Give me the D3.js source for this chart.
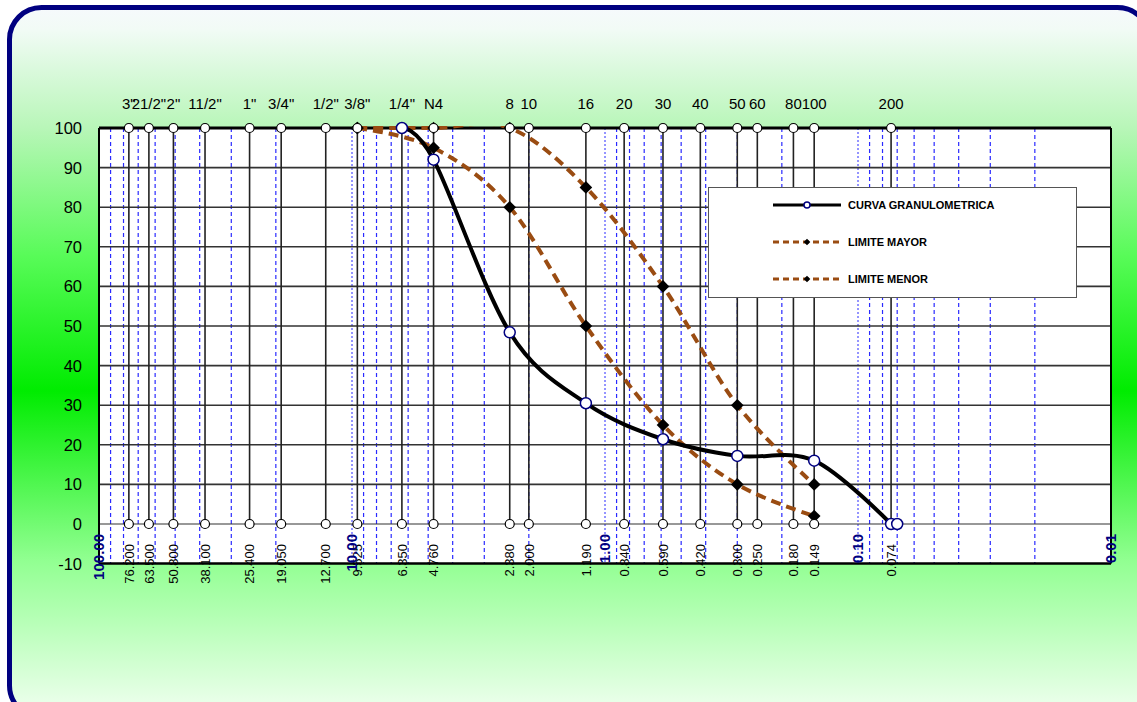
<!DOCTYPE html>
<html>
<head>
<meta charset="utf-8">
<script src="https://cdn.jsdelivr.net/npm/d3@7"></script>
<style>
  html, body { margin: 0; padding: 0; background: #ffffff; }
  svg { display: block; font-family: "Liberation Sans", Arial, sans-serif; }
</style>
</head>
<body>
<svg id="chart" width="1137" height="702"></svg>
<script>
// ---- data ----
const sieveNames = ['3"', '21/2"', '2"', '11/2"', '1"', '3/4"', '1/2"', '3/8"', '1/4"', 'N4', '8', '10', '16', '20', '30', '40', '50', '60', '80', '100', '200'];
const sieveSizes = [76.2, 63.5, 50.8, 38.1, 25.4, 19.05, 12.7, 9.525, 6.35, 4.76, 2.38, 2.0, 1.19, 0.84, 0.59, 0.42, 0.30, 0.25, 0.18, 0.149, 0.074];
const sieveLabels = ["76.200", "63.500", "50.800", "38.100", "25.400", "19.050", "12.700", "9.525", "6.350", "4.760", "2.380", "2.000", "1.190", "0.840", "0.590", "0.420", "0.300", "0.250", "0.180", "0.149", "0.074"];

const curveSizes = [6.35, 4.76, 2.38, 1.19, 0.59, 0.30, 0.149, 0.074];
const curveValues = [100, 92, 48.4, 30.5, 21.4, 17.2, 16, 0];
const panSize = [0.07];
const panValue = [0];

const limitSizes = [9.525, 4.76, 2.38, 1.19, 0.59, 0.30, 0.149];
const limitMayor = [100, 100, 100, 85, 60, 30, 10];
const limitMenor = [100, 95, 80, 50, 25, 10, 2];

const majorTicks = [100, 10, 1, 0.1, 0.01];
const majorLabels = ["100.00", "10.00", "1.00", "0.10", "0.01"];
const yTicks = [-10, 0, 10, 20, 30, 40, 50, 60, 70, 80, 90, 100];

const legendNames = ["CURVA GRANULOMETRICA", "LIMITE MAYOR", "LIMITE MENOR"];

// ---- layout ----
const svg = d3.select("#chart");
const L = 99, R = 1111, T = 128, B = 563.6;
const x = d3.scaleLog().domain([100, 0.01]).range([L, R]);
const y = d3.scaleLinear().domain([-10, 100]).range([B, T]);

const defs = svg.append("defs");
const grad = defs.append("linearGradient").attr("id", "bg").attr("x1", 0).attr("y1", 0).attr("x2", 0).attr("y2", 1);
[[0, "#f6f9fc"], [0.03, "#f2fbf6"], [0.17, "#b8f6b8"], [0.35, "#58fb58"], [0.54, "#00ec00"], [0.78, "#92ff92"], [1, "#f2fff2"]]
  .forEach(([o, c]) => grad.append("stop").attr("offset", o).attr("stop-color", c));
defs.append("clipPath").attr("id", "plotclip").append("rect")
  .attr("x", L).attr("y", T - 2).attr("width", R - L).attr("height", B - T + 2);

// outer rounded frame
svg.append("rect").attr("x", 9.5).attr("y", 7.5).attr("width", 1140).attr("height", 710)
  .attr("rx", 32).attr("fill", "url(#bg)").attr("stroke", "#000080").attr("stroke-width", 5);

// plot background
svg.append("rect").attr("x", L).attr("y", T).attr("width", R - L).attr("height", B - T).attr("fill", "#ffffff");

// minor log grid (blue dashed) and major (blue dotted)
const allTicks = x.ticks();
const minor = allTicks.filter(v => Math.abs(Math.log10(v) - Math.round(Math.log10(v))) > 1e-6);
svg.append("g").selectAll("line").data(minor).join("line")
  .attr("x1", d => x(d)).attr("x2", d => x(d)).attr("y1", T).attr("y2", B)
  .attr("stroke", "#2a2aff").attr("stroke-width", 1.2).attr("stroke-dasharray", "4,3");
svg.append("g").selectAll("line").data(majorTicks.slice(1, 4)).join("line")
  .attr("x1", d => x(d)).attr("x2", d => x(d)).attr("y1", T).attr("y2", B)
  .attr("stroke", "#2a2aff").attr("stroke-width", 1).attr("stroke-dasharray", "2,2");

// horizontal grid
svg.append("g").selectAll("line").data(yTicks.filter(v => v > -10 && v < 100)).join("line")
  .attr("x1", L).attr("x2", R).attr("y1", d => y(d)).attr("y2", d => y(d))
  .attr("stroke", "#333333").attr("stroke-width", d => d === 0 ? 1.2 : 1.6);

// sieve verticals
svg.append("g").selectAll("line").data(sieveSizes).join("line")
  .attr("x1", d => x(d)).attr("x2", d => x(d)).attr("y1", y(0)).attr("y2", y(100))
  .attr("stroke", "#222222").attr("stroke-width", 1.6);

// plot border
svg.append("line").attr("x1", L).attr("x2", R).attr("y1", T).attr("y2", T).attr("stroke", "#000").attr("stroke-width", 3);
svg.append("line").attr("x1", L).attr("x2", R).attr("y1", B).attr("y2", B).attr("stroke", "#000").attr("stroke-width", 2.5);
svg.append("line").attr("x1", L).attr("x2", L).attr("y1", T).attr("y2", B).attr("stroke", "#000").attr("stroke-width", 2);
svg.append("line").attr("x1", R).attr("x2", R).attr("y1", T).attr("y2", B).attr("stroke", "#000").attr("stroke-width", 2);

const line = d3.line().x(d => x(d[0])).y(d => y(d[1])).curve(d3.curveCardinal.tension(0));
const brown = "#9a4c12";

const plot = svg.append("g").attr("clip-path", "url(#plotclip)");

// limits
[limitMayor, limitMenor].forEach(vals => {
  const pts = limitSizes.map((s, i) => [s, vals[i]]);
  plot.append("path").attr("d", line(pts)).attr("fill", "none")
    .attr("stroke", brown).attr("stroke-width", 4).attr("stroke-dasharray", "10,6");
});
[limitMayor, limitMenor].forEach(vals => {
  svg.append("g").selectAll("path").data(limitSizes.map((s, i) => [s, vals[i]])).join("path")
    .attr("d", d3.symbol().type(d3.symbolSquare).size(80))
    .attr("transform", d => `translate(${x(d[0])},${y(d[1])}) rotate(45)`)
    .attr("fill", "#000");
});

// sieve circles
[0, 100].forEach(v => {
  svg.append("g").selectAll("circle").data(sieveSizes).join("circle")
    .attr("cx", d => x(d)).attr("cy", y(v)).attr("r", 4.5)
    .attr("fill", "#fff").attr("stroke", "#000").attr("stroke-width", 1.2);
});

// gradation curve
const cpts = curveSizes.map((s, i) => [s, curveValues[i]]);
plot.append("path").attr("d", line(cpts)).attr("fill", "none")
  .attr("stroke", "#000").attr("stroke-width", 4);
svg.append("g").selectAll("circle").data(cpts.concat(panSize.map((s, i) => [s, panValue[i]]))).join("circle")
  .attr("cx", d => x(d[0])).attr("cy", d => y(d[1])).attr("r", 5.5)
  .attr("fill", "#fff").attr("stroke", "#000080").attr("stroke-width", 1.5);

// y labels
svg.append("g").selectAll("text").data(yTicks).join("text")
  .attr("x", 82).attr("y", d => y(d)).attr("dy", "0.36em").attr("text-anchor", "end")
  .attr("font-size", 16.5).attr("fill", "#000").text(d => d);

// top sieve names
svg.append("g").selectAll("text").data(sieveSizes).join("text")
  .attr("x", d => x(d)).attr("y", 109).attr("text-anchor", "middle")
  .attr("font-size", 15).attr("fill", "#000").text((d, i) => sieveNames[i]);

// bottom sieve size labels (rotated)
svg.append("g").selectAll("text").data(sieveSizes).join("text")
  .attr("transform", d => `translate(${x(d)},544) rotate(-90)`)
  .attr("dy", "0.36em").attr("text-anchor", "end")
  .attr("font-size", 13).attr("fill", "#000").text((d, i) => sieveLabels[i]);

// major labels (rotated, bold, navy)
svg.append("g").selectAll("text").data(majorTicks).join("text")
  .attr("transform", d => `translate(${x(d)},534) rotate(-90)`)
  .attr("dy", "0.36em").attr("text-anchor", "end")
  .attr("font-size", 15).attr("font-weight", "bold").attr("fill", "#000080").text((d, i) => majorLabels[i]);

// legend
const lg = svg.append("g");
lg.append("rect").attr("x", 708.5).attr("y", 187.5).attr("width", 368).attr("height", 110)
  .attr("fill", "#fff").attr("stroke", "#555").attr("stroke-width", 1);
const rowsY = [205, 242, 279];
legendNames.forEach((name, i) => {
  const yy = rowsY[i];
  if (i === 0) {
    lg.append("line").attr("x1", 773).attr("x2", 841).attr("y1", yy).attr("y2", yy).attr("stroke", "#000").attr("stroke-width", 3);
    lg.append("circle").attr("cx", 807).attr("cy", yy).attr("r", 3).attr("fill", "#fff").attr("stroke", "#000080").attr("stroke-width", 1.5);
  } else {
    lg.append("line").attr("x1", 773).attr("x2", 841).attr("y1", yy).attr("y2", yy).attr("stroke", brown).attr("stroke-width", 3).attr("stroke-dasharray", "6,4");
    lg.append("path").attr("d", d3.symbol().type(d3.symbolSquare).size(22)).attr("transform", `translate(807,${yy}) rotate(45)`).attr("fill", "#000");
  }
  lg.append("text").attr("x", 848).attr("y", yy).attr("dy", "0.36em").attr("font-size", 11).attr("font-weight", "bold").attr("fill", "#000").text(name);
});
</script>
</body>
</html>
